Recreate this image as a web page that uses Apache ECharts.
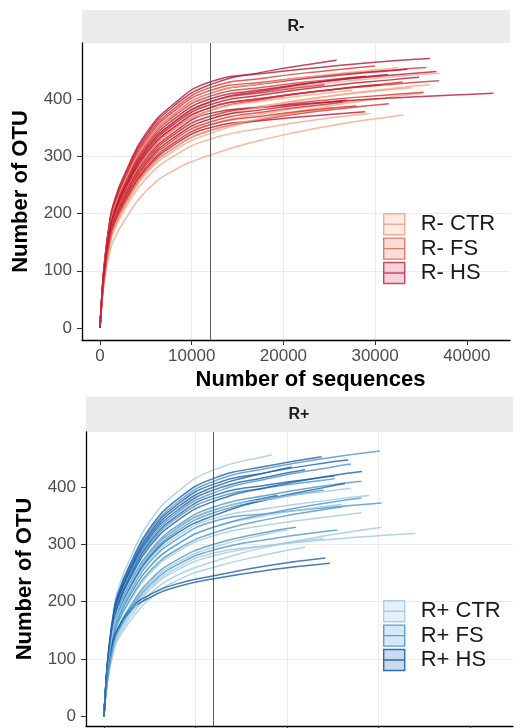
<!DOCTYPE html>
<html>
<head>
<meta charset="utf-8">
<script src="https://cdn.jsdelivr.net/npm/echarts@6/dist/echarts.min.js"></script>
<style>
  html, body { margin: 0; padding: 0; background: #ffffff; }
  #chart { width: 525px; height: 728px; }
</style>
</head>
<body>
<div id="chart"></div>
<script>
// Sequencing depths at which every rarefaction curve is sampled;
// each curve stops at its own maximum depth (last OTU value).
const depths = [0, 250, 500, 1000, 1500, 3000, 5000, 8000, 12000, 18000, 25000, 32000, 40000];

const xTicks = [0, 10000, 20000, 30000, 40000];
const yTicks = [0, 100, 200, 300, 400];
const rarefactionDepth = 12000;

// R- samples
const rMinusCTR = [
  { maxDepth: 33100, otu: [0, 48, 82, 127, 154, 196, 239, 275, 302, 330, 353, 370, 372] },
  { maxDepth: 35200, otu: [0, 54, 92, 143, 173, 221, 269, 309, 340, 366, 388, 404, 410] },
  { maxDepth: 34000, otu: [0, 59, 100, 155, 189, 241, 292, 337, 370, 389, 405, 417, 420] },
  { maxDepth: 37000, otu: [0, 63, 107, 166, 201, 257, 312, 359, 395, 413, 428, 439, 445] },
  { maxDepth: 30000, otu: [0, 57, 96, 149, 181, 231, 280, 323, 355, 375, 391, 400] },
  { maxDepth: 27500, otu: [0, 61, 103, 160, 194, 247, 300, 346, 380, 397, 411, 415] },
  { maxDepth: 29500, otu: [0, 53, 89, 139, 168, 215, 261, 300, 330, 350, 367, 375] },
  { maxDepth: 32500, otu: [0, 66, 111, 172, 209, 267, 324, 373, 410, 428, 443, 454, 455] },
  { maxDepth: 36000, otu: [0, 58, 99, 153, 186, 237, 288, 332, 365, 387, 405, 419, 425] },
  { maxDepth: 25500, otu: [0, 55, 93, 145, 176, 224, 273, 314, 345, 367, 384, 385] }
];
const rMinusFS = [
  { maxDepth: 35600, otu: [0, 66, 112, 174, 212, 270, 328, 378, 415, 430, 442, 451, 455] },
  { maxDepth: 29000, otu: [0, 65, 109, 170, 207, 263, 320, 369, 405, 421, 434, 440] },
  { maxDepth: 33000, otu: [0, 61, 103, 160, 194, 247, 300, 346, 380, 400, 416, 428, 430] },
  { maxDepth: 35300, otu: [0, 59, 100, 155, 189, 241, 292, 337, 370, 386, 399, 408, 412] },
  { maxDepth: 26500, otu: [0, 58, 97, 151, 184, 234, 284, 328, 360, 378, 392, 395] },
  { maxDepth: 24500, otu: [0, 63, 107, 166, 201, 257, 312, 359, 395, 412, 425] },
  { maxDepth: 31500, otu: [0, 55, 93, 145, 176, 224, 273, 314, 345, 365, 381, 392] },
  { maxDepth: 30000, otu: [0, 67, 113, 176, 214, 273, 332, 382, 420, 437, 450, 458] },
  { maxDepth: 37000, otu: [0, 62, 104, 162, 196, 250, 304, 350, 385, 402, 416, 426, 432] },
  { maxDepth: 28000, otu: [0, 57, 96, 149, 181, 231, 280, 323, 355, 371, 384, 388] }
];
const rMinusHS = [
  { maxDepth: 36000, otu: [0, 69, 116, 181, 219, 280, 340, 391, 430, 445, 457, 467, 471] },
  { maxDepth: 25800, otu: [0, 68, 115, 179, 217, 276, 336, 387, 425, 448, 466, 468] },
  { maxDepth: 36700, otu: [0, 64, 108, 168, 204, 260, 316, 364, 400, 417, 432, 442, 448] },
  { maxDepth: 31400, otu: [0, 63, 107, 166, 201, 257, 312, 359, 395, 415, 432, 443] },
  { maxDepth: 42900, otu: [0, 60, 101, 158, 191, 244, 296, 341, 375, 386, 395, 402, 408, 410] },
  { maxDepth: 28900, otu: [0, 56, 95, 147, 179, 228, 277, 319, 350, 363, 373, 378] },
  { maxDepth: 33500, otu: [0, 66, 111, 172, 209, 267, 324, 373, 410, 427, 440, 450, 452] },
  { maxDepth: 30500, otu: [0, 62, 104, 162, 196, 250, 304, 350, 385, 402, 416, 425] },
  { maxDepth: 27000, otu: [0, 58, 99, 153, 186, 237, 288, 332, 365, 382, 395, 398] },
  { maxDepth: 34800, otu: [0, 62, 105, 164, 199, 254, 308, 355, 390, 408, 423, 434, 438] }
];

// R+ samples
const rPlusCTR = [
  { maxDepth: 18340, otu: [0, 69, 116, 181, 219, 280, 340, 391, 430, 455, 456] },
  { maxDepth: 34000, otu: [0, 46, 77, 120, 145, 185, 225, 259, 285, 298, 309, 317, 319] },
  { maxDepth: 28170, otu: [0, 50, 85, 132, 161, 205, 249, 287, 315, 334, 349, 355] },
  { maxDepth: 20000, otu: [0, 47, 80, 124, 150, 192, 233, 268, 295, 319, 325] },
  { maxDepth: 30350, otu: [0, 43, 73, 113, 138, 176, 213, 246, 270, 296, 317, 330] },
  { maxDepth: 22000, otu: [0, 42, 70, 109, 133, 169, 205, 237, 260, 283, 295] },
  { maxDepth: 26000, otu: [0, 53, 89, 139, 168, 215, 261, 300, 330, 351, 368, 370] },
  { maxDepth: 29000, otu: [0, 55, 93, 145, 176, 224, 273, 314, 345, 363, 378, 385] },
  { maxDepth: 24000, otu: [0, 45, 76, 118, 143, 182, 221, 255, 280, 298, 310] },
  { maxDepth: 27000, otu: [0, 58, 97, 151, 184, 234, 284, 328, 360, 379, 394, 398] }
];
const rPlusFS = [
  { maxDepth: 30160, otu: [0, 66, 111, 172, 209, 267, 324, 373, 410, 433, 452, 463] },
  { maxDepth: 25200, otu: [0, 61, 103, 160, 194, 247, 300, 346, 380, 399, 414, 415] },
  { maxDepth: 28170, otu: [0, 58, 99, 153, 186, 237, 288, 332, 365, 386, 404, 410] },
  { maxDepth: 30350, otu: [0, 54, 92, 143, 173, 221, 269, 309, 340, 354, 365, 372] },
  { maxDepth: 26000, otu: [0, 51, 86, 134, 163, 208, 253, 291, 320, 344, 363, 365] },
  { maxDepth: 21000, otu: [0, 48, 81, 126, 153, 195, 237, 273, 300, 322, 330] },
  { maxDepth: 24000, otu: [0, 57, 96, 149, 181, 231, 280, 323, 355, 378, 395] },
  { maxDepth: 28170, otu: [0, 53, 89, 139, 168, 215, 261, 300, 330, 354, 374, 381] },
  { maxDepth: 27000, otu: [0, 62, 105, 164, 199, 254, 308, 355, 390, 415, 435, 440] },
  { maxDepth: 25500, otu: [0, 46, 78, 122, 148, 189, 229, 264, 290, 309, 324, 325] }
];
const rPlusHS = [
  { maxDepth: 23800, otu: [0, 66, 112, 174, 212, 270, 328, 378, 415, 437, 453] },
  { maxDepth: 26700, otu: [0, 65, 109, 170, 207, 263, 320, 369, 405, 426, 444, 447] },
  { maxDepth: 22000, otu: [0, 63, 107, 166, 201, 257, 312, 359, 395, 418, 430] },
  { maxDepth: 25200, otu: [0, 62, 104, 162, 196, 250, 304, 350, 385, 404, 419, 420] },
  { maxDepth: 28200, otu: [0, 60, 101, 158, 191, 244, 296, 341, 375, 400, 420, 427] },
  { maxDepth: 19000, otu: [0, 58, 97, 151, 184, 234, 284, 328, 360, 382, 385] },
  { maxDepth: 26350, otu: [0, 56, 95, 147, 179, 228, 277, 319, 350, 379, 402, 406] },
  { maxDepth: 24700, otu: [0, 55, 90, 130, 150, 185, 207, 226, 240, 255, 267] },
  { maxDepth: 24200, otu: [0, 56, 92, 133, 153, 189, 212, 231, 245, 263, 276] },
  { maxDepth: 20500, otu: [0, 64, 108, 168, 204, 260, 316, 364, 400, 426, 435] }
];

const FONT = "'Liberation Sans', Arial, Helvetica, sans-serif";

const panels = [
  {
    grid: 0,
    groups: [
      { name: 'R- CTR', line: '#f7a584', fill: 'rgba(250,190,165,0.30)', border: '#f3ad90', curves: rMinusCTR },
      { name: 'R- FS',  line: '#d9332e', fill: 'rgba(232,120,105,0.25)', border: '#e47a6c', curves: rMinusFS },
      { name: 'R- HS',  line: '#b3153a', fill: 'rgba(200,60,90,0.22)',  border: '#cc4660', curves: rMinusHS }
    ]
  },
  {
    grid: 1,
    groups: [
      { name: 'R+ CTR', line: '#9dc9e4', fill: 'rgba(170,205,230,0.30)', border: '#a9d0e8', curves: rPlusCTR },
      { name: 'R+ FS',  line: '#4a95cb', fill: 'rgba(100,160,210,0.25)', border: '#5c9fd2', curves: rPlusFS },
      { name: 'R+ HS',  line: '#1c5ea6', fill: 'rgba(50,110,180,0.25)',  border: '#2f6db3', curves: rPlusHS }
    ]
  }
];

function curvePoints(curve) {
  const pts = curve.otu.slice(0, -1).map((v, i) => [depths[i], v]);
  pts.push([curve.maxDepth, curve.otu[curve.otu.length - 1]]);
  return pts;
}

const series = [];
panels.forEach(panel => {
  const n = Math.max(...panel.groups.map(g => g.curves.length));
  for (let i = 0; i < n; i++) {
    panel.groups.forEach(g => {
      const c = g.curves[i];
      if (!c) return;
      series.push({
        type: 'line',
        name: g.name,
        xAxisIndex: panel.grid,
        yAxisIndex: panel.grid,
        data: curvePoints(c),
        showSymbol: false,
        symbol: 'none',
        smooth: 0.5,
        silent: true,
        animation: false,
        z: 2,
        itemStyle: { color: g.line },
        lineStyle: { color: g.line, width: 1.5, opacity: 0.8 }
      });
    });
  }
  // rarefaction cut-off
  series.push({
    type: 'line',
    name: 'cutoff',
    xAxisIndex: panel.grid,
    yAxisIndex: panel.grid,
    data: [],
    silent: true,
    animation: false,
    z: 5,
    markLine: {
      silent: true,
      animation: false,
      symbol: ['none', 'none'],
      label: { show: false },
      emphasis: { disabled: true },
      lineStyle: { color: '#4a4a4a', width: 1, type: 'solid', opacity: 0.9 },
      data: [{ xAxis: rarefactionDepth }]
    }
  });
});

const plainNumber = v => String(v);

function makeXAxis(gridIndex, withTitle) {
  return {
    gridIndex: gridIndex,
    type: 'value',
    min: -1963,
    max: 44711,
    name: withTitle ? 'Number of sequences' : '',
    nameLocation: 'middle',
    nameGap: 29,
    nameTextStyle: { fontSize: 22, fontWeight: 'bold', color: '#000', fontFamily: FONT, padding: [0, 0, 0, 29] },
    axisLine: { show: true, onZero: false, lineStyle: { color: '#000', width: 1.3 } },
    axisTick: { show: true, length: 5, customValues: xTicks, lineStyle: { color: '#333', width: 1 } },
    axisLabel: { show: withTitle, customValues: xTicks, formatter: plainNumber, fontSize: 17, color: '#4d4d4d', margin: 8, fontFamily: FONT },
    splitLine: { show: true, showMinLine: false, showMaxLine: false, lineStyle: { color: '#ececec', width: 1 } }
  };
}

function makeYAxis(gridIndex, min, max) {
  return {
    gridIndex: gridIndex,
    type: 'value',
    min: min,
    max: max,
    name: 'Number of OTU',
    nameLocation: 'middle',
    nameRotate: 90,
    nameGap: 50,
    nameTextStyle: { fontSize: 22, fontWeight: 'bold', color: '#000', fontFamily: FONT },
    axisLine: { show: true, onZero: false, lineStyle: { color: '#000', width: 1.3 } },
    axisTick: { show: true, length: 5, customValues: yTicks, lineStyle: { color: '#333', width: 1 } },
    axisLabel: { customValues: yTicks, formatter: plainNumber, fontSize: 17, color: '#4d4d4d', margin: 10, fontFamily: FONT },
    splitLine: { show: true, showMinLine: false, showMaxLine: false, lineStyle: { color: '#ececec', width: 1 } }
  };
}

const keyIcon = 'path://M0,0H20V20H0Z M0,10H20';

function makeLegend(panel, top) {
  return {
    orient: 'vertical',
    left: 383,
    top: top,
    padding: 0,
    itemWidth: 21,
    itemHeight: 21,
    itemGap: 2,
    icon: keyIcon,
    selectedMode: false,
    textStyle: { fontSize: 22, color: '#1a1a1a', fontFamily: FONT, lineHeight: 21, padding: [0, 0, 0, 11] },
    data: panel.groups.map(g => ({
      name: g.name,
      itemStyle: { color: g.fill, borderColor: g.border, borderWidth: 1.4 }
    }))
  };
}

const option = {
  backgroundColor: '#ffffff',
  animation: false,
  textStyle: { fontFamily: FONT },
  grid: [
    { left: 82, right: 15, top: 43, bottom: 388, containLabel: false, outerBoundsMode: 'none', show: false },
    { left: 86, right: 12, top: 432, bottom: 2, containLabel: false, outerBoundsMode: 'none', show: false }
  ],
  xAxis: [makeXAxis(0, true), makeXAxis(1, false)],
  yAxis: [makeYAxis(0, -21, 498), makeYAxis(1, -17, 496)],
  legend: [makeLegend(panels[0], 213), makeLegend(panels[1], 600)],
  graphic: [
    { type: 'rect', silent: true, z: 0, shape: { x: 82, y: 10, width: 428, height: 33 }, style: { fill: '#ebebeb' } },
    { type: 'text', silent: true, z: 1, x: 296, y: 27, style: { text: 'R-', fontSize: 16, fontWeight: 'bold', fill: '#1a1a1a', align: 'center', verticalAlign: 'middle', fontFamily: FONT } },
    { type: 'rect', silent: true, z: 0, shape: { x: 86, y: 397, width: 427, height: 35 }, style: { fill: '#ebebeb' } },
    { type: 'text', silent: true, z: 1, x: 299, y: 415, style: { text: 'R+', fontSize: 16, fontWeight: 'bold', fill: '#1a1a1a', align: 'center', verticalAlign: 'middle', fontFamily: FONT } }
  ],
  series: series
};

const chart = echarts.init(document.getElementById('chart'), null, { renderer: 'canvas' });
chart.setOption(option);
</script>
</body>
</html>
